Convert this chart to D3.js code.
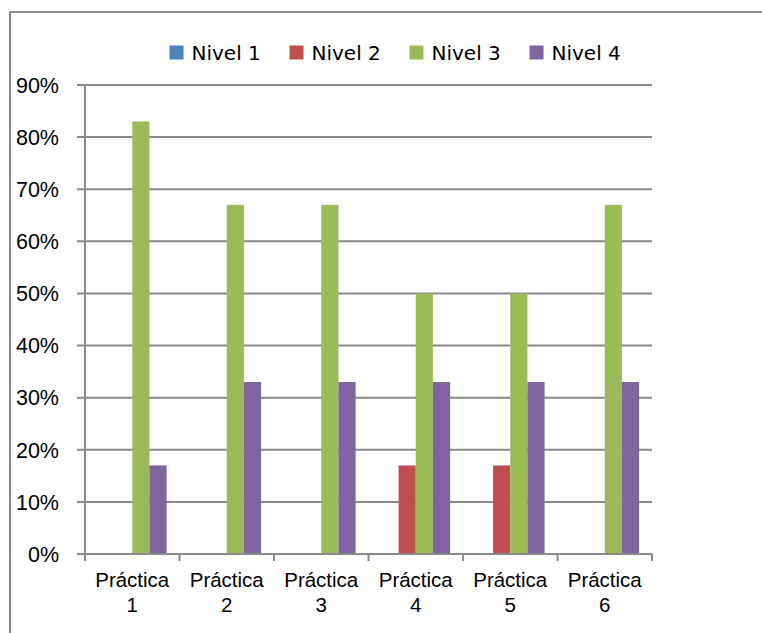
<!DOCTYPE html>
<html>
<head>
<meta charset="utf-8">
<script src="https://cdn.jsdelivr.net/npm/d3@7"></script>
<style>
  html, body { margin: 0; padding: 0; background: #fff; }
  svg { display: block; }
</style>
</head>
<body>
<svg id="chart" width="762" height="633"></svg>
<script>
// Categories and series
const categories = ["Práctica 1", "Práctica 2", "Práctica 3", "Práctica 4", "Práctica 5", "Práctica 6"];
const series = ["Nivel 1", "Nivel 2", "Nivel 3", "Nivel 4"];
const nivel1 = [0, 0, 0, 0, 0, 0];
const nivel2 = [0, 0, 0, 17, 17, 0];
const nivel3 = [83, 67, 67, 50, 50, 67];
const nivel4 = [17, 33, 33, 33, 33, 33];
const colors = ["#4F81BD", "#C0504D", "#9BBB59", "#8064A2"];
const yTicks = [0, 10, 20, 30, 40, 50, 60, 70, 80, 90];

const values = [nivel1, nivel2, nivel3, nivel4];
const rows = categories.map((c, i) => ({
  cat: c,
  vals: series.map((s, k) => ({ key: s, v: values[k][i], color: colors[k] }))
}));

const svg = d3.select("#chart");
const grid = "#8a8a8a";

// Outer frame (top and left edges visible)
svg.append("path")
  .attr("d", "M10,633 L10,12 L762,12")
  .attr("fill", "none").attr("stroke", grid).attr("stroke-width", 2);

const plot = { left: 85, right: 652, top: 85, bottom: 554 };

const y = d3.scaleLinear().domain([0, 90]).range([plot.bottom, plot.top]);
const x0 = d3.scaleBand().domain(categories).range([plot.left, plot.right]).paddingInner(0).paddingOuter(0);
const bw = x0.bandwidth();
const barW = bw / 5.5;            // gap width 150% of a bar
const x1 = d3.scaleBand().domain(series).range([barW * 0.75, bw - barW * 0.75]);

// Horizontal gridlines with small left ticks
svg.append("g").selectAll("line").data(yTicks).join("line")
  .attr("x1", plot.left - 8).attr("x2", plot.right)
  .attr("y1", d => y(d)).attr("y2", d => y(d))
  .attr("stroke", grid).attr("stroke-width", 2);

// Y axis line
svg.append("line")
  .attr("x1", plot.left).attr("x2", plot.left)
  .attr("y1", plot.top).attr("y2", plot.bottom + 6)
  .attr("stroke", grid).attr("stroke-width", 2);

// Category separator ticks below axis
const edges = categories.map(c => x0(c)).concat([plot.right]);
svg.append("g").selectAll("line").data(edges).join("line")
  .attr("x1", d => d).attr("x2", d => d)
  .attr("y1", plot.bottom).attr("y2", plot.bottom + 7)
  .attr("stroke", grid).attr("stroke-width", 2);

// Y tick labels
svg.append("g").selectAll("text").data(yTicks).join("text")
  .attr("x", 59).attr("y", d => y(d))
  .attr("dy", "0.36em")
  .attr("text-anchor", "end")
  .attr("font-family", "'Liberation Sans', Arial, sans-serif")
  .attr("font-size", 21.5)
  .attr("fill", "#000")
  .text(d => d + "%");

// Bars
const groups = svg.append("g").selectAll("g").data(rows).join("g")
  .attr("transform", d => `translate(${x0(d.cat)},0)`);
groups.selectAll("rect").data(d => d.vals.filter(v => v.v > 0)).join("rect")
  .attr("x", d => x1(d.key))
  .attr("width", x1.bandwidth())
  .attr("y", d => y(d.v))
  .attr("height", d => y(0) - y(d.v))
  .attr("fill", d => d.color);

// Redraw the baseline over the bars
svg.append("line")
  .attr("x1", plot.left).attr("x2", plot.right)
  .attr("y1", plot.bottom).attr("y2", plot.bottom)
  .attr("stroke", grid).attr("stroke-width", 2);

// Category labels (two lines)
const catLabels = svg.append("g").selectAll("text").data(categories).join("text")
  .attr("text-anchor", "middle")
  .attr("font-family", "'Liberation Sans', Arial, sans-serif")
  .attr("font-size", 20.5)
  .attr("fill", "#000");
catLabels.each(function(d) {
  const parts = d.split(" ");
  const cx = x0(d) + bw / 2;
  const t = d3.select(this);
  t.append("tspan").attr("x", cx).attr("y", 587).text(parts[0]);
  t.append("tspan").attr("x", cx).attr("y", 612).text(parts[1]);
});

// Legend
const legend = svg.append("g").selectAll("g").data(series).join("g")
  .attr("transform", (d, i) => `translate(${169.5 + i * 120},0)`);
legend.append("rect")
  .attr("x", 0).attr("y", 45.5).attr("width", 14).attr("height", 14)
  .attr("fill", (d, i) => colors[i]);
legend.append("text")
  .attr("x", 22).attr("y", 59.5)
  .attr("font-family", "'DejaVu Sans', sans-serif")
  .attr("font-size", 20)
  .attr("fill", "#000")
  .text(d => d);
</script>
</body>
</html>
